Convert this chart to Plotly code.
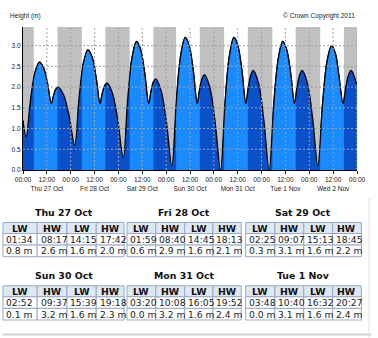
import plotly.graph_objects as go
import pandas as pd

# ---------------- data ----------------
day_titles = ["Thu 27 Oct", "Fri 28 Oct", "Sat 29 Oct", "Sun 30 Oct", "Mon 31 Oct", "Tue 1 Nov"]
day_dates = ["2011-10-27", "2011-10-28", "2011-10-29", "2011-10-30", "2011-10-31", "2011-11-01"]
tide_types = ["LW", "HW", "LW", "HW"]
tide_times = [
    ["01:34", "08:17", "14:15", "17:42"],
    ["01:59", "08:40", "14:45", "18:13"],
    ["02:25", "09:07", "15:13", "18:45"],
    ["02:52", "09:37", "15:39", "19:18"],
    ["03:20", "10:08", "16:05", "19:52"],
    ["03:48", "10:40", "16:32", "20:27"],
]
tide_heights = [
    [0.8, 2.6, 1.6, 2.0],
    [0.6, 2.9, 1.6, 2.1],
    [0.3, 3.1, 1.6, 2.2],
    [0.1, 3.2, 1.6, 2.3],
    [0.0, 3.2, 1.6, 2.4],
    [0.0, 3.1, 1.6, 2.4],
]
# Wed 2 Nov extremes (its table is cut off)
wed_times = ["2011-11-02 04:18", "2011-11-02 11:12", "2011-11-02 16:58", "2011-11-02 21:03"]
wed_heights = [0.1, 3.0, 1.6, 2.4]

# Intermediate curve readings between the extremes
curve_times = [
    "2011-10-27 00:00", "2011-10-27 03:48", "2011-10-27 06:03", "2011-10-27 10:16", "2011-10-27 12:16",
    "2011-10-27 15:24", "2011-10-27 16:33", "2011-10-27 20:28", "2011-10-27 23:13",
    "2011-10-28 04:13", "2011-10-28 06:26", "2011-10-28 10:42", "2011-10-28 12:43",
    "2011-10-28 15:54", "2011-10-28 17:04", "2011-10-28 20:57", "2011-10-28 23:41",
    "2011-10-29 04:39", "2011-10-29 06:53", "2011-10-29 11:09", "2011-10-29 13:11",
    "2011-10-29 16:24", "2011-10-29 17:34", "2011-10-29 21:27", "2011-10-30 00:10",
    "2011-10-30 05:07", "2011-10-30 07:22", "2011-10-30 11:38", "2011-10-30 13:38",
    "2011-10-30 16:52", "2011-10-30 18:05", "2011-10-30 21:59", "2011-10-31 00:39",
    "2011-10-31 05:36", "2011-10-31 07:52", "2011-10-31 12:07", "2011-10-31 14:06",
    "2011-10-31 17:21", "2011-10-31 18:36", "2011-10-31 22:31", "2011-11-01 01:09",
    "2011-11-01 06:05", "2011-11-01 08:23", "2011-11-01 12:37", "2011-11-01 14:35",
    "2011-11-01 17:50", "2011-11-01 19:09", "2011-11-01 23:04", "2011-11-02 01:41",
    "2011-11-02 06:36", "2011-11-02 08:54", "2011-11-02 13:07", "2011-11-02 14:49",
    "2011-11-02 18:20", "2011-11-02 19:46", "2011-11-02 23:39", "2011-11-03 00:00",
    "2011-11-03 02:30",
]
curve_heights = [
    1.20, 1.70, 2.36, 2.47, 2.10,
    1.80, 1.95, 1.81, 1.30,
    1.75, 2.59, 2.73, 2.25,
    1.85, 2.03, 1.86, 1.20,
    1.70, 2.72, 2.90, 2.35,
    1.90, 2.12, 1.92, 1.15,
    1.65, 2.78, 2.99, 2.40,
    1.95, 2.21, 1.99, 1.15,
    1.60, 2.77, 2.99, 2.40,
    2.00, 2.29, 2.08, 1.20,
    1.55, 2.68, 2.90, 2.35,
    2.00, 2.29, 2.09, 1.25,
    1.55, 2.61, 2.81, 2.30,
    2.00, 2.29, 2.11, 2.03,
    1.30,
]

# daylight intervals (light bands)
day_start = ["2011-10-27 05:25", "2011-10-28 05:35", "2011-10-29 05:40", "2011-10-30 05:00",
             "2011-10-31 05:10", "2011-11-01 05:25", "2011-11-02 05:30"]
day_end = ["2011-10-27 17:20", "2011-10-28 17:25", "2011-10-29 17:35", "2011-10-30 16:55",
           "2011-10-31 17:05", "2011-11-01 17:10", "2011-11-02 17:25"]

x_start = "2011-10-27 00:00"
x_end = "2011-11-03 00:00"
y_ticks = [0.0, 0.5, 1.0, 1.5, 2.0, 2.5, 3.0]
tick_dates = ["Thu 27 Oct", "Fri 28 Oct", "Sat 29 Oct", "Sun 30 Oct", "Mon 31 Oct", "Tue 1 Nov", "Wed 2 Nov"]

# ---------------- build curve ----------------
pts = []
for d, tl, hl in zip(day_dates, tide_times, tide_heights):
    for t, h in zip(tl, hl):
        pts.append((pd.Timestamp(d + " " + t), h))
for t, h in zip(wed_times, wed_heights):
    pts.append((pd.Timestamp(t), h))
for t, h in zip(curve_times, curve_heights):
    pts.append((pd.Timestamp(t), h))
pts.sort(key=lambda p: p[0])
cx = [p[0] for p in pts]
cy = [p[1] for p in pts]

GREY = "#c0c0c0"
DARK = "#0a50c8"
LIGHT = "#1a8cff"

W, H = 378, 338
ML, MR, MT, MB = 21, 15, 27, 168
PW, PH = W - ML - MR, H - MT - MB


def fx(px):
    return (px - ML) / PW


def fy(py):
    return 1 - (py - MT) / PH


T0, T1 = pd.Timestamp(x_start), pd.Timestamp(x_end)

fig = go.Figure()
line = dict(color="black", width=1.3, shape="spline")
fig.add_trace(go.Scatter(x=cx, y=cy, mode="lines", line=line, fill="tozeroy",
                         fillcolor=DARK, hoverinfo="skip", showlegend=False))

layout_extra = {}
for i, (a, b) in enumerate(zip(day_start, day_end)):
    k = i + 2
    ta, tb = pd.Timestamp(a), pd.Timestamp(b)
    d0 = (ta - T0) / (T1 - T0)
    d1 = (tb - T0) / (T1 - T0)
    layout_extra[f"xaxis{k}"] = dict(type="date", range=[a, b], domain=[d0, d1], anchor="y",
                                     visible=False, fixedrange=True, showgrid=False, zeroline=False)
    fig.add_trace(go.Scatter(x=cx, y=cy, mode="lines", line=line, fill="tozeroy",
                             fillcolor=LIGHT, hoverinfo="skip", showlegend=False,
                             xaxis=f"x{k}", yaxis="y"))

shapes = []
# night (grey) background bands
night_a = [x_start] + day_end
night_b = day_start + [x_end]
for a, b in zip(night_a, night_b):
    shapes.append(dict(type="rect", xref="x", yref="paper", x0=a, x1=b, y0=0, y1=1,
                       fillcolor=GREY, line=dict(width=0), layer="below"))

# tick values every 12 h
tickvals = list(pd.date_range(T0, T1, freq="12h"))
ticktext = []
for j, tv in enumerate(tickvals):
    if tv.hour == 12:
        ticktext.append("12:00<br>" + tick_dates[j // 2])
    else:
        ticktext.append("00:00")

GRID = "#a0a0a0"
for tv in tickvals[1:]:
    shapes.append(dict(type="line", xref="x", yref="paper", x0=tv, x1=tv, y0=0, y1=1,
                       line=dict(color=GRID, width=1, dash="2px,2px"), layer="above"))
for yv in y_ticks[1:]:
    shapes.append(dict(type="line", xref="paper", yref="y", x0=0, x1=1, y0=yv, y1=yv,
                       line=dict(color=GRID, width=1, dash="2px,2px"), layer="above"))

annotations = []
SMALL = dict(family="Liberation Sans, Arial, sans-serif", size=6.6, color="#222")
annotations.append(dict(text="Height (m)", xref="paper", yref="paper", x=fx(6), y=fy(16),
                        xanchor="left", yanchor="middle", showarrow=False, font=SMALL))
annotations.append(dict(text="© Crown Copyright 2011", xref="paper", yref="paper", x=fx(363), y=fy(16),
                        xanchor="right", yanchor="middle", showarrow=False, font=SMALL))

# ---------------- tables ----------------
col_edges = [
    [0.5, 35.5, 66, 96, 124.5],
    [127.5, 157, 186.5, 215.5, 244.5],
    [249, 279, 308.5, 338, 367.5],
]
title_cx = [63, 186, 308]
row_tops = [222.5, 285.8]
title_cy = [212.3, 275.7]
row_h = [11, 11.6, 11.6]
BORDER = "#9aa9c4"
HEADBG = "#dfe7f3"
TFONT = dict(family="DejaVu Sans, Verdana, sans-serif", size=9.2, color="#222")
BFONT = dict(family="DejaVu Sans, Verdana, sans-serif", size=9.4, color="#111")

for di in range(len(day_titles)):
    r, c = divmod(di, 3)
    edges = col_edges[c]
    top = row_tops[r]
    annotations.append(dict(text="<b>" + day_titles[di] + "</b>", xref="paper", yref="paper",
                            x=fx(title_cx[c]), y=fy(title_cy[r]), xanchor="center", yanchor="middle",
                            showarrow=False, font=BFONT))
    rows = [tide_types, tide_times[di], [f"{h:.1f} m" for h in tide_heights[di]]]
    y0 = top
    for ri, vals in enumerate(rows):
        y1 = y0 + row_h[ri]
        for ci in range(4):
            xa, xb = edges[ci], edges[ci + 1]
            shapes.append(dict(type="rect", xref="paper", yref="paper", x0=fx(xa), x1=fx(xb),
                               y0=fy(y1), y1=fy(y0), line=dict(color=BORDER, width=1),
                               fillcolor=HEADBG if ri == 0 else "white", layer="below"))
            if ri == 0:
                annotations.append(dict(text="<b>" + vals[ci] + "</b>", xref="paper", yref="paper",
                                        x=fx((xa + xb) / 2), y=fy((y0 + y1) / 2), xanchor="center",
                                        yanchor="middle", showarrow=False, font=BFONT))
            else:
                annotations.append(dict(text=vals[ci], xref="paper", yref="paper",
                                        x=fx(xa + 1.5), y=fy((y0 + y1) / 2), xanchor="left",
                                        yanchor="middle", showarrow=False, font=TFONT))
        y0 = y1

# bottom separator and cut-off next title
shapes.append(dict(type="line", xref="paper", yref="paper", x0=fx(0), x1=fx(378), y0=fy(334.5), y1=fy(334.5),
                   line=dict(color="#d4d4d4", width=2)))
shapes.append(dict(type="line", xref="paper", yref="paper", x0=fx(375.5), x1=fx(375.5), y0=fy(198), y1=fy(338),
                   line=dict(color="#e0e0e0", width=1)))
annotations.append(dict(text="<b>Wed 2 Nov</b>", xref="paper", yref="paper", x=fx(63), y=fy(343.5),
                        xanchor="center", yanchor="middle", showarrow=False, font=BFONT))

fig.update_layout(
    width=W, height=H, autosize=False,
    margin=dict(l=ML, r=MR, t=MT, b=MB, pad=0),
    paper_bgcolor="white", plot_bgcolor="rgba(0,0,0,0)",
    hovermode=False, showlegend=False,
    xaxis=dict(type="date", range=[x_start, x_end], domain=[0, 1], anchor="y",
               tickvals=tickvals, ticktext=ticktext, tickangle=0, ticks="outside", ticklen=3,
               tickcolor="#222", tickwidth=1, showline=True, linecolor="black", linewidth=1,
               showgrid=False, zeroline=False, fixedrange=True,
               tickfont=dict(family="Liberation Sans, Arial, sans-serif", size=6.6, color="#222")),
    yaxis=dict(range=[0, 3.45], domain=[0, 1], anchor="x", tickvals=y_ticks,
               ticktext=[f"{v:.1f}" for v in y_ticks], ticks="", showline=True,
               linecolor="black", linewidth=1, showgrid=False, zeroline=False, fixedrange=True,
               tickfont=dict(family="Liberation Sans, Arial, sans-serif", size=6.6, color="#222")),
    shapes=shapes, annotations=annotations,
    **layout_extra,
)

fig.write_html("out.html")
